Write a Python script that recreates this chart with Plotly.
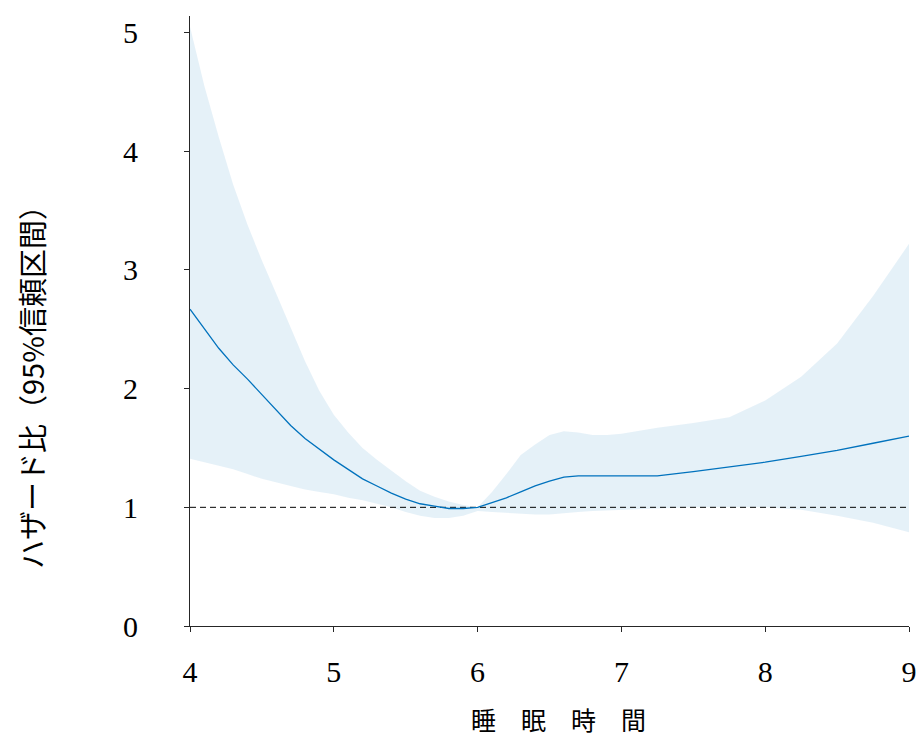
import plotly.graph_objects as go

# Sleep duration (hours) and hazard ratio with its 95% confidence band
hours = [4.0, 4.1, 4.2, 4.3, 4.4, 4.5, 4.6, 4.7, 4.8, 4.9,
         5.0, 5.1, 5.2, 5.3, 5.4, 5.5, 5.6, 5.7, 5.8, 5.9,
         6.0, 6.1, 6.2, 6.3, 6.4, 6.5, 6.6, 6.7, 6.8, 6.9,
         7.0, 7.25, 7.5, 7.75, 8.0, 8.25, 8.5, 8.75, 9.0]

hazard_ratio = [2.67, 2.50, 2.34, 2.20, 2.08, 1.95, 1.82, 1.69, 1.58, 1.49,
                1.40, 1.32, 1.24, 1.18, 1.12, 1.07, 1.03, 1.01, 0.99, 0.99,
                1.00, 1.04, 1.08, 1.13, 1.18, 1.22, 1.255, 1.265, 1.265, 1.265,
                1.265, 1.265, 1.30, 1.34, 1.38, 1.43, 1.48, 1.54, 1.60]

ci_upper = [5.05, 4.55, 4.12, 3.72, 3.38, 3.08, 2.80, 2.52, 2.23, 1.98,
            1.78, 1.63, 1.50, 1.40, 1.31, 1.22, 1.14, 1.09, 1.05, 1.02,
            1.00, 1.13, 1.28, 1.44, 1.53, 1.61, 1.64, 1.63, 1.61, 1.61,
            1.62, 1.67, 1.71, 1.76, 1.90, 2.10, 2.38, 2.78, 3.22]

ci_lower = [1.41, 1.38, 1.35, 1.32, 1.28, 1.24, 1.21, 1.18, 1.15, 1.13,
            1.11, 1.08, 1.06, 1.03, 1.00, 0.96, 0.93, 0.91, 0.91, 0.93,
            0.97, 0.96, 0.95, 0.945, 0.94, 0.94, 0.95, 0.96, 0.97, 0.975,
            0.98, 0.99, 1.00, 1.00, 1.00, 0.98, 0.93, 0.87, 0.79]

reference_hr = 1.0
x_ticks = [4, 5, 6, 7, 8, 9]
y_ticks = [0, 1, 2, 3, 4, 5]

LINE_BLUE = "#0072BD"
BAND_FILL = "rgba(0,114,189,0.10)"
SERIF = "Liberation Serif, Times New Roman, serif"
CJK = "Noto Sans CJK JP, sans-serif"

fig = go.Figure()

# confidence band
fig.add_trace(go.Scatter(
    x=hours + hours[::-1],
    y=ci_upper + ci_lower[::-1],
    fill="toself", fillcolor=BAND_FILL,
    line=dict(width=0), mode="lines",
    hoverinfo="skip", showlegend=False,
))

# reference line at HR = 1
fig.add_trace(go.Scatter(
    x=[hours[0], hours[-1]], y=[reference_hr, reference_hr],
    mode="lines", line=dict(color="#000000", width=1, dash="6px,4px"),
    showlegend=False,
))

# hazard ratio curve
fig.add_trace(go.Scatter(
    x=hours, y=hazard_ratio, mode="lines",
    line=dict(color=LINE_BLUE, width=1.3),
    showlegend=False,
))

fig.update_layout(
    width=922, height=738,
    margin=dict(l=190, r=13, t=16, b=112, autoexpand=False),
    paper_bgcolor="white", plot_bgcolor="white",
    font=dict(family=SERIF, size=30, color="#000000"),
    xaxis=dict(
        range=[4, 9], tickvals=x_ticks, ticktext=[str(v) for v in x_ticks],
        showgrid=False, zeroline=False, automargin=False,
        showline=True, linecolor="#262626", linewidth=1,
        ticks="outside", ticklen=5, tickcolor="#262626",
        ticklabelstandoff=14,
    ),
    yaxis=dict(
        range=[0, 5.14], tickvals=y_ticks, ticktext=[str(v) for v in y_ticks],
        showgrid=False, zeroline=False, automargin=False,
        showline=True, linecolor="#262626", linewidth=1,
        ticks="outside", ticklen=5, tickcolor="#262626",
        ticklabelstandoff=40,
    ),
    annotations=[
        dict(text="睡　眠　時　間", xref="paper", yref="paper",
             x=(558 - 190) / 719, y=-(719 - 626) / 610,
             xanchor="center", yanchor="middle", showarrow=False,
             font=dict(family=CJK, size=25, color="#000000")),
        dict(text="ハザード比（95%信頼区間）", xref="paper", yref="paper",
             x=-(190 - 31) / 719, y=(626 - 380) / 610,
             xanchor="center", yanchor="middle", showarrow=False,
             textangle=-90,
             font=dict(family=CJK, size=29, color="#000000")),
    ],
)

fig.write_html("out.html")
